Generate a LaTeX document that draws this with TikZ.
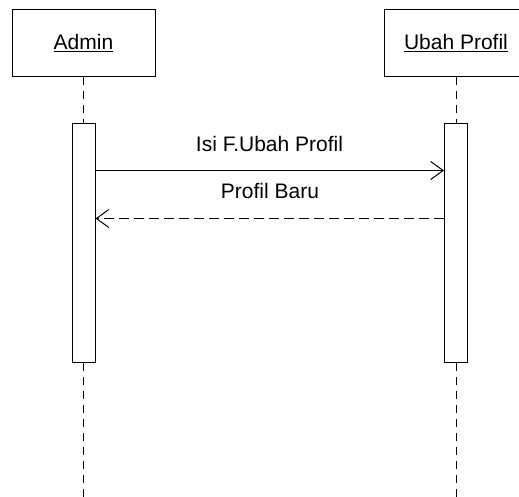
\documentclass[tikz,border=0pt]{standalone}
\usepackage{fontspec}
\setmainfont{Liberation Sans}
\usetikzlibrary{arrows.meta}
\begin{document}
\begin{tikzpicture}[x=1pt,y=-1pt,
  every node/.style={font=\fontsize{21}{25}\selectfont},
  objbox/.style={draw, line width=1pt, minimum width=143pt, minimum height=67pt, inner sep=0pt},
  actbox/.style={draw, fill=white, line width=1pt, minimum width=23pt, minimum height=238pt, inner sep=0pt},
  lifeline/.style={line width=1pt, dash pattern=on 8pt off 6pt},
  callmsg/.style={line width=1pt, -{Straight Barb[length=12.5pt,width=18pt,line width=1pt]}},
  retmsg/.style={line width=1pt, dash pattern=on 10pt off 5pt, -{Straight Barb[length=12.5pt,width=18pt,line width=1pt]}},
  msglabel/.style={inner sep=0pt}]
\useasboundingbox (0,0) rectangle (519,497);
\clip (0,0) rectangle (519,497);
\node[objbox] (admin) at (83.5,43) {\underline{Admin}};
\node[objbox, minimum width=144pt] (ubah) at (456,43) {\underline{Ubah Profil}};
\node[actbox] (actL) at (83.5,243) {};
\node[actbox] (actR) at (456,243) {};
\coordinate (endL) at (83.5,497);
\coordinate (endR) at (456,497);
\draw[lifeline] (admin.south) -- (actL.north);
\draw[lifeline] (ubah.south) -- (actR.north);
\draw[lifeline] (actL.south) -- (endL);
\draw[lifeline] (actR.south) -- (endR);
\coordinate (m1s) at ([yshift=-47pt]actL.north east);
\coordinate (m1e) at ([yshift=-47pt]actR.north west);
\coordinate (m2s) at ([yshift=-95pt]actR.north west);
\coordinate (m2e) at ([yshift=-95pt]actL.north east);
\draw[callmsg] (m1s) -- (m1e);
\draw[retmsg] (m2s) -- (m2e);
\node[msglabel] (l1) at (269.5,144) {Isi F.Ubah Profil};
\node[msglabel] (l2) at (270,191) {Profil Baru};
\end{tikzpicture}
\end{document}
